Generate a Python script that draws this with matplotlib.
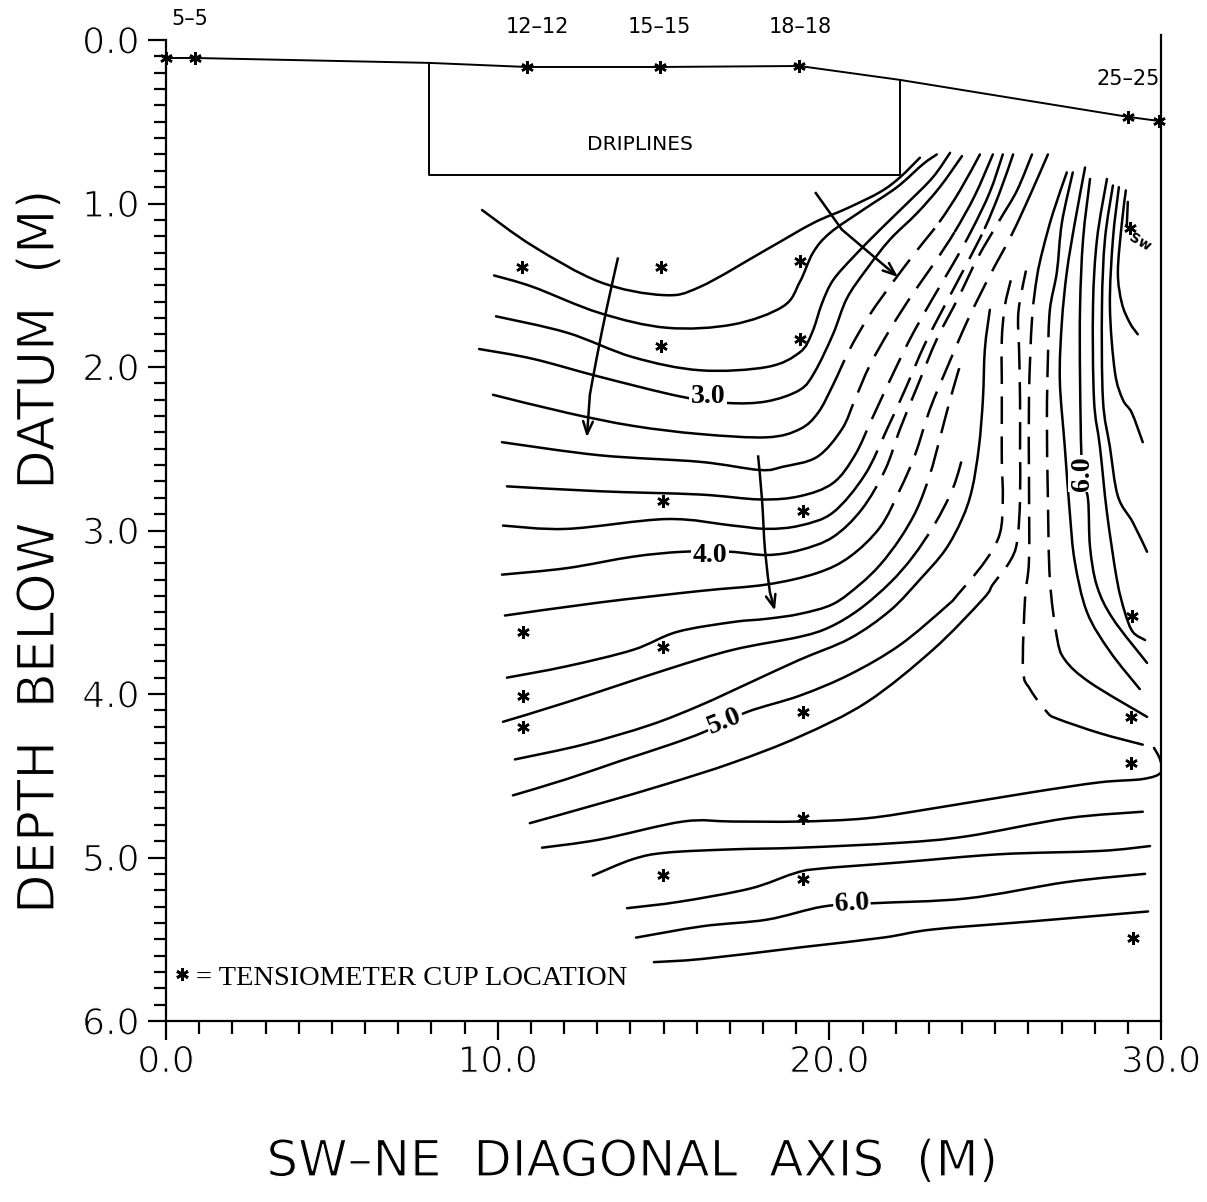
import numpy as np
import matplotlib.pyplot as plt
from matplotlib import patheffects as pe
from matplotlib.path import Path
from matplotlib.patches import PathPatch

# ground surface along the section (x m, depth m)
ground = [(0.0, 0.11), (0.87, 0.11), (7.93, 0.14), (10.88, 0.165), (14.9, 0.165),
          (19.1, 0.159), (22.13, 0.244), (29.0, 0.47), (29.93, 0.495)]
ground_cups = [0.0, 0.87, 10.88, 14.9, 19.1, 29.0, 29.93]
drip_box = [(7.93, 0.14), (7.93, 0.825), (22.13, 0.825), (22.13, 0.244)]

station_names = ['5–5', '12–12', '15–15', '18–18', '25–25']
station_x = [0.72, 11.19, 14.89, 19.11, 29.0]
station_y = [-0.13, -0.08, -0.08, -0.08, 0.24]

# tensiometer cups in the section
cup_x = [10.73, 14.92, 19.11, 14.92, 19.11, 14.98, 19.20, 10.76, 14.98, 10.76,
         10.76, 19.20, 19.20, 14.98, 19.20, 29.12, 29.09, 29.09, 29.15, 29.06]
cup_y = [1.39, 1.39, 1.35, 1.87, 1.83, 2.82, 2.88, 3.62, 3.71, 4.01,
         4.20, 4.11, 4.76, 5.11, 5.13, 3.52, 4.14, 4.42, 5.49, 1.15]

# head contours, SW family
c1 = [(9.53, 1.04), (11.06, 1.26), (13.08, 1.48), (14.98, 1.56), (16.10, 1.51), (18.12, 1.28),
      (19.51, 1.12), (20.53, 1.03), (21.53, 0.93), (22.13, 0.84), (22.73, 0.72)]
c2 = [(9.89, 1.44), (11.06, 1.51), (13.08, 1.67), (15.10, 1.76), (17.09, 1.74), (18.60, 1.63),
      (19.11, 1.48), (19.51, 1.30), (20.02, 1.18), (21.01, 1.04), (22.04, 0.90), (22.82, 0.76),
      (23.24, 0.70)]
c3 = [(9.95, 1.69), (12.09, 1.79), (14.08, 1.94), (16.10, 2.02), (18.12, 2.00), (19.11, 1.91),
      (19.48, 1.79), (19.78, 1.61), (20.11, 1.47), (20.71, 1.33), (21.53, 1.16), (22.34, 1.00),
      (23.12, 0.84), (23.64, 0.69)]
c4 = [(9.44, 1.89), (11.06, 1.95), (13.08, 2.06), (15.50, 2.18), (16.94, 2.22), (18.12, 2.21),
      (19.11, 2.14), (19.56, 2.03), (20.11, 1.80), (20.53, 1.58), (21.13, 1.40), (21.83, 1.22),
      (22.64, 1.06), (23.33, 0.90), (24.00, 0.71)]
c5 = [(9.86, 2.17), (12.09, 2.28), (14.08, 2.36), (16.10, 2.41), (18.12, 2.43), (19.11, 2.38),
      (19.66, 2.28), (20.11, 2.11), (20.62, 1.89), (21.22, 1.68), (21.92, 1.48), (22.67, 1.28),
      (23.33, 1.11), (23.94, 0.92), (24.54, 0.70)]
c6 = [(10.13, 2.46), (13.08, 2.54), (16.10, 2.58), (17.91, 2.63), (18.60, 2.61), (19.63, 2.55),
      (20.38, 2.38), (20.77, 2.20), (21.22, 1.99), (21.83, 1.77), (22.49, 1.56), (23.18, 1.36),
      (23.79, 1.17), (24.39, 0.95), (24.93, 0.70)]
c7 = [(10.28, 2.73), (13.08, 2.76), (16.10, 2.78), (17.91, 2.81), (19.11, 2.79), (20.11, 2.71),
      (20.77, 2.54), (21.28, 2.32), (21.83, 2.08), (22.43, 1.83), (23.09, 1.59), (23.73, 1.37),
      (24.30, 1.16), (24.84, 0.93), (25.23, 0.70)]
c8 = [(10.16, 2.97), (12.09, 2.99), (15.10, 2.93), (17.09, 2.97), (18.12, 2.99), (19.11, 2.97),
      (20.11, 2.89), (21.07, 2.66), (21.74, 2.38), (22.28, 2.14), (22.88, 1.86), (23.49, 1.62),
      (24.09, 1.39), (24.69, 1.15), (25.14, 0.93), (25.54, 0.70)]
c9 = [(10.13, 3.27), (12.09, 3.23), (14.08, 3.16), (15.59, 3.13), (17.00, 3.13), (18.12, 3.15),
      (19.11, 3.12), (20.11, 3.04), (20.98, 2.87), (21.68, 2.63), (22.13, 2.38), (22.67, 2.11),
      (23.24, 1.83), (23.88, 1.58), (24.48, 1.33), (25.14, 1.10), (25.66, 0.92), (26.11, 0.70)]
c10 = [(10.22, 3.52), (13.08, 3.44), (16.10, 3.37), (18.12, 3.33), (19.63, 3.26), (20.62, 3.16),
       (21.53, 2.98), (22.13, 2.75), (22.58, 2.54), (23.03, 2.26), (23.58, 1.99), (24.18, 1.71),
       (24.84, 1.44), (25.50, 1.19), (26.05, 0.95), (26.59, 0.70)]
c11 = [(10.28, 3.90), (12.09, 3.83), (14.08, 3.73), (15.41, 3.62), (17.09, 3.56), (18.12, 3.54),
       (19.11, 3.51), (20.11, 3.45), (20.92, 3.33), (21.53, 3.21), (22.13, 3.05), (22.64, 2.87),
       (23.03, 2.66), (23.33, 2.44), (23.64, 2.20), (24.00, 1.95)]
c12 = [(10.16, 4.17), (12.09, 4.05), (15.10, 3.85), (17.09, 3.73), (19.11, 3.65), (20.02, 3.59),
       (20.92, 3.48), (21.83, 3.32), (22.52, 3.16), (23.18, 2.96), (23.73, 2.74), (24.06, 2.52)]
c13 = [(10.52, 4.40), (12.57, 4.31), (14.59, 4.19), (16.10, 4.07), (17.61, 3.93), (19.11, 3.79),
       (20.62, 3.66), (21.83, 3.49), (22.73, 3.30), (23.49, 3.12), (24.00, 2.93), (24.30, 2.75),
       (24.51, 2.49), (24.63, 2.20), (24.69, 1.89), (24.84, 1.65)]
c14 = [(10.46, 4.62), (12.09, 4.52), (13.69, 4.41), (15.19, 4.31), (16.25, 4.23), (17.52, 4.11),
       (19.11, 4.01), (20.62, 3.88), (22.13, 3.70), (23.55, 3.46), (23.88, 3.39), (24.69, 3.19),
       (25.14, 3.02), (25.23, 2.81), (25.20, 2.57), (25.20, 2.32), (25.20, 2.08), (25.20, 1.83),
       (25.29, 1.63), (25.47, 1.47)]
c15 = [(10.97, 4.79), (13.08, 4.67), (15.10, 4.55), (17.09, 4.42), (19.11, 4.26), (21.13, 4.05),
       (23.12, 3.73), (24.63, 3.42), (24.93, 3.33), (25.44, 3.19), (25.66, 3.07), (25.75, 2.81),
       (25.75, 2.50), (25.75, 2.20), (25.72, 1.89), (25.69, 1.71), (25.75, 1.59), (25.93, 1.41)]

# NE family
r1 = [(29.00, 0.99), (28.97, 1.13)]
r2 = [(28.94, 0.92), (28.82, 1.12), (28.70, 1.42), (28.82, 1.61), (29.06, 1.73), (29.30, 1.80)]
r3 = [(28.73, 0.90), (28.55, 1.22), (28.46, 1.63), (28.61, 2.03), (28.85, 2.20), (29.12, 2.28),
      (29.45, 2.46)]
r4 = [(28.55, 0.89), (28.31, 1.22), (28.22, 1.63), (28.25, 2.20), (28.46, 2.49), (28.70, 2.79),
      (29.15, 2.95), (29.58, 3.13)]
r5 = [(28.37, 0.85), (28.07, 1.22), (27.95, 1.63), (27.98, 2.20), (28.16, 2.49), (28.37, 2.89),
      (28.67, 3.30), (28.91, 3.50), (29.15, 3.62), (29.52, 3.67)]
r6 = [(27.86, 0.85), (27.65, 1.22), (27.56, 1.63), (27.56, 2.08), (27.62, 2.63), (27.80, 2.81),
      (27.86, 3.10), (28.07, 3.34), (28.55, 3.54), (29.58, 3.81)]
r7 = [(27.71, 0.78), (27.40, 1.12), (27.16, 1.42), (27.01, 1.73), (26.95, 2.08), (27.10, 2.49),
      (27.25, 2.89), (27.40, 3.19), (27.77, 3.50), (28.46, 3.74), (29.36, 3.97)]
r8 = [(27.34, 0.81), (27.01, 1.12), (26.86, 1.42), (26.65, 1.65), (26.59, 1.95), (26.56, 2.32),
      (26.59, 2.81), (26.65, 3.30), (26.86, 3.65), (27.10, 3.79), (27.86, 3.93), (29.58, 4.14)]
r9 = [(27.16, 0.81), (26.74, 1.06), (26.44, 1.28), (26.26, 1.45), (26.11, 1.71), (26.02, 2.18),
      (26.02, 2.69), (26.02, 3.18), (25.90, 3.42), (25.84, 3.85), (26.05, 3.97), (26.56, 4.11),
      (26.86, 4.15), (28.16, 4.24), (29.45, 4.31)]

# deep family
b1 = [(11.34, 4.94), (13.08, 4.89), (15.59, 4.78), (17.09, 4.78), (19.11, 4.78), (21.13, 4.76),
      (23.12, 4.70), (26.14, 4.60), (28.16, 4.54), (29.45, 4.52), (30.0, 4.48), (29.97, 4.40),
      (29.79, 4.33)]
b2 = [(12.87, 5.11), (14.08, 5.01), (15.10, 4.97), (17.09, 4.95), (19.11, 4.94), (22.13, 4.91),
      (24.15, 4.87), (27.16, 4.76), (29.45, 4.72)]
b3 = [(13.90, 5.31), (15.50, 5.27), (17.61, 5.19), (18.90, 5.10), (19.63, 5.07), (22.13, 5.03),
      (25.14, 4.98), (28.16, 4.96), (29.67, 4.93)]
b4 = [(14.17, 5.49), (16.19, 5.42), (18.12, 5.38), (19.81, 5.30), (21.28, 5.28), (24.15, 5.25),
      (27.16, 5.15), (29.52, 5.10)]
b5 = [(14.71, 5.64), (16.19, 5.62), (19.11, 5.55), (21.62, 5.49), (23.12, 5.44), (26.14, 5.39),
      (29.61, 5.33)]

# contour labels
lab_text = ['3.0', '4.0', '5.0', '6.0', '6.0']
lab_x = [16.34, 16.40, 16.85, 20.68, 27.62]
lab_y = [2.18, 3.15, 4.17, 5.28, 2.65]
lab_rot = [0, 0, 22, 3, 90]

# flow arrows
arrow1 = [(13.63, 1.33), (13.30, 1.63), (12.99, 1.94), (12.78, 2.17), (12.69, 2.43)]
arrow2 = [(17.85, 2.54), (17.97, 2.81), (18.06, 3.12), (18.21, 3.38), (18.36, 3.49)]
arrow3 = [(19.57, 0.93), (20.38, 1.16), (22.07, 1.45)]


def smooth_path(pts, i0, i1):
    # cubic pieces through the read points (Catmull-Rom tangents)
    p = np.asarray(pts, float)
    n = len(p)
    verts, codes = [p[i0]], [Path.MOVETO]
    for i in range(i0, i1):
        a, b, c, d = p[max(i - 1, 0)], p[i], p[i + 1], p[min(i + 2, n - 1)]
        verts += [b + (c - a) / 6, c - (d - b) / 6, c]
        codes += [Path.CURVE4] * 3
    return Path(verts, codes)


def contour(ax, pts, *cuts):
    # solid first, then alternate dashed / solid at each cut index
    edges = [0] + list(cuts) + [len(pts) - 1]
    for k in range(len(edges) - 1):
        dashed = k % 2 == 1
        ax.add_patch(PathPatch(smooth_path(pts, edges[k], edges[k + 1]), fill=False,
                               lw=1.8, color='black', capstyle='butt' if dashed else 'round',
                               ls=(0, (11, 5)) if dashed else '-'))


W, H = 1207, 1202
fig = plt.figure(figsize=(W / 100, H / 100), dpi=100)
ax = fig.add_axes([166 / W, 1 - 1021 / H, (1161 - 166) / W, (1021 - 40) / H])
ax.set_xlim(0, 30)
ax.set_ylim(6, 0)
ax.patch.set_alpha(0)

for line in [c1, c2, c3, c4, c13, r1, r2, r3, r4, r5, r6, r7, b1, b2, b3, b4, b5]:
    contour(ax, line)
contour(ax, c5, 7, 12)
contour(ax, c6, 6, 12)
contour(ax, c7, 6, 12)
contour(ax, c8, 7, 13)
contour(ax, c9, 8, 15)
contour(ax, c10, 6, 13)
contour(ax, c11, 11)
contour(ax, c12, 8)
contour(ax, c14, 9)
contour(ax, c15, 7)
contour(ax, r8, 3, 8)
contour(ax, r9, 3, 11)

gx, gy = zip(*ground)
ax.plot(gx, gy, color='black', lw=1.4, clip_on=False)
ax.plot(ground_cups, np.interp(ground_cups, gx, gy), ls='none', marker=(6, 2, 0),
        ms=9, mec='black', mew=1.8, clip_on=False)
bx, by = zip(*drip_box)
ax.plot(bx, by, color='black', lw=1.4)
ax.text(14.3, 0.64, 'DRIPLINES', ha='center', va='center', fontsize=14.5,
        family='DejaVu Sans')
for name, sx, sy in zip(station_names, station_x, station_y):
    ax.text(sx, sy, name, ha='center', va='center', fontsize=15,
            family='DejaVu Sans', clip_on=False)

ax.plot(cup_x, cup_y, ls='none', marker=(6, 2, 0), ms=9, mec='black', mew=1.8)

for t, x, y, r in zip(lab_text, lab_x, lab_y, lab_rot):
    ax.text(x, y, t, ha='center', va='center', rotation=r, fontsize=20,
            family='Liberation Serif', weight='bold',
            bbox=dict(facecolor='white', edgecolor='none', pad=1.0))

for arr in [arrow1, arrow2, arrow3]:
    ax.add_patch(PathPatch(smooth_path(arr[:-1], 0, len(arr) - 2), fill=False,
                           lw=1.8, color='black'))
    ax.annotate('', xy=arr[-1], xytext=arr[-2],
                arrowprops=dict(arrowstyle='->,head_length=0.9,head_width=0.35',
                                color='black', lw=1.8, shrinkA=0, shrinkB=0))

ax.text(29.36, 1.24, 'Sw', fontsize=10, weight='bold', rotation=-30,
        ha='center', va='center', family='DejaVu Sans')

ax.plot([0.48], [5.71], ls='none', marker=(6, 2, 0), ms=9, mec='black', mew=2)
ax.text(0.9, 5.74, '= TENSIOMETER CUP LOCATION', fontsize=20.5, family='Liberation Serif',
        ha='left', va='center')

# axes frame
ax.plot([30, 30], [-0.03, 6], color='black', lw=1.6, clip_on=False)
for s in ['top', 'right']:
    ax.spines[s].set_visible(False)
for s in ['left', 'bottom']:
    ax.spines[s].set_linewidth(1.6)

ax.set_xticks([0, 10, 20, 30])
ax.set_xticks(np.arange(0, 31, 1), minor=True)
ax.set_yticks([0, 1, 2, 3, 4, 5, 6])
ax.set_yticks(np.arange(0, 6.01, 0.1), minor=True)
ax.set_xticklabels(['0.0', '10.0', '20.0', '30.0'])
ax.set_yticklabels(['0.0', '1.0', '2.0', '3.0', '4.0', '5.0', '6.0'])
ax.tick_params(axis='both', which='major', direction='out', width=1.6, labelsize=26)
ax.tick_params(axis='both', which='minor', direction='out', width=1.6)
ax.tick_params(axis='y', which='major', length=13, pad=6)
ax.tick_params(axis='y', which='minor', length=8.5)
ax.tick_params(axis='x', which='major', length=13.5, pad=4)
ax.tick_params(axis='x', which='minor', length=9)

thin = [pe.Normal(), pe.Stroke(linewidth=0.9, foreground='white')]
for lab in ax.get_xticklabels() + ax.get_yticklabels():
    lab.set_family('DejaVu Sans')
    lab.set_path_effects(thin)

fig.text(632 / W, 1 - 1162 / H, 'SW–NE  DIAGONAL  AXIS  (M)', fontsize=36,
         family='DejaVu Sans', ha='center', va='center', path_effects=thin)
fig.text(40 / W, 1 - 552 / H, 'DEPTH  BELOW  DATUM  (M)', fontsize=37, rotation=90,
         family='DejaVu Sans', ha='center', va='center', path_effects=thin)

fig.savefig('out.png', dpi=100, facecolor='white')
